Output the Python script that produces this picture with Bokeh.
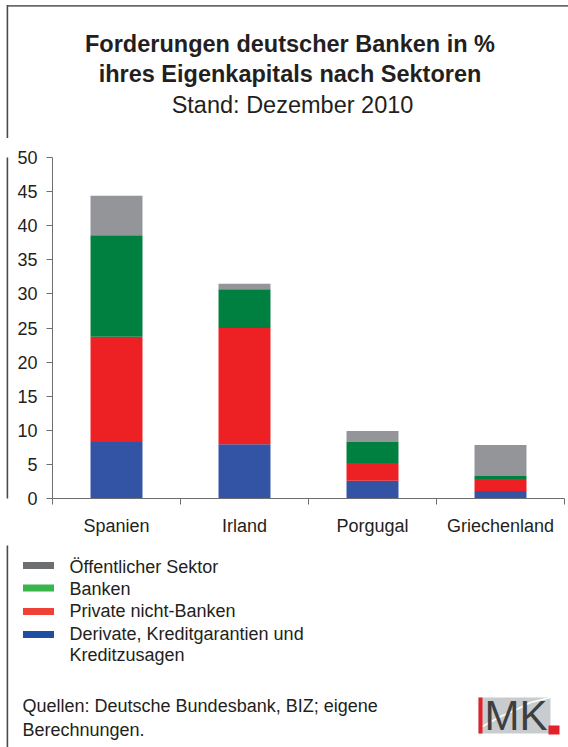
from bokeh.plotting import figure
from bokeh.models import Range1d, FixedTicker, ColumnDataSource
from bokeh.layouts import column, row
from bokeh.core.properties import value
from bokeh.embed import file_html
from bokeh.resources import INLINE

# ---------------- data ----------------
categories = ["Spanien", "Irland", "Porgugal", "Griechenland"]
derivate = [8.3, 7.95, 2.6, 1.1]          # Derivate, Kreditgarantien und Kreditzusagen
private = [15.4, 17.05, 2.6, 1.75]        # Private nicht-Banken
banken = [14.9, 5.7, 3.1, 0.45]           # Banken
oeffentlich = [5.8, 0.8, 1.6, 4.55]       # Öffentlicher Sektor
y_ticks = [0, 5, 10, 15, 20, 25, 30, 35, 40, 45, 50]

legend_labels = ["Öffentlicher Sektor", "Banken", "Private nicht-Banken",
                 "Derivate, Kreditgarantien und", "Kreditzusagen"]
title_lines = ["Forderungen deutscher Banken in %", "ihres Eigenkapitals nach Sektoren"]
subtitle = "Stand: Dezember 2010"
source_lines = ["Quellen: Deutsche Bundesbank, BIZ; eigene", "Berechnungen."]

# ---------------- styles ----------------
FONT = "Liberation Sans"
TXT = "#231f20"
AXC = "#6d6e71"
FRAME_TOP = "#6a6a6a"
FRAME_LEFT = "#4a4a4a"
bar_colors = ["#3353a4", "#ed2024", "#008040", "#939598"]      # stacked bottom -> top
legend_colors = ["#6d6e71", "#39b54a", "#ef4136", "#1f4fa0"]   # legend order (top -> bottom)

W = 568
H_HDR, H_CHART, H_FTR = 138, 407, 202
Y_CHART, Y_FTR = H_HDR, H_HDR + H_CHART
STRIP = 12
LEFT_X = 6.9


def blank(w, h, xr, yr):
    return figure(width=w, height=h, x_range=Range1d(*xr), y_range=Range1d(*yr),
                  output_backend="svg", toolbar_location=None, min_border=0,
                  x_axis_type=None, y_axis_type=None, outline_line_color=None,
                  background_fill_color="white", border_fill_color="white")


# ---------------- header ----------------
hdr = blank(W, H_HDR, (0, W), (H_HDR, 0))
hdr.segment(x0=[LEFT_X], y0=[5.3], x1=[W + 5], y1=[5.3], line_color=FRAME_TOP, line_width=1.7)
hdr.segment(x0=[LEFT_X], y0=[4.5], x1=[LEFT_X], y1=[H_HDR + 10], line_color=FRAME_LEFT, line_width=1.6)
hdr.text(x=[289.5, 289.5], y=[43.5, 73], text=title_lines, text_align="center",
         text_baseline="alphabetic", text_font=value(FONT), text_font_style="bold",
         text_font_size="23.5px", text_color=TXT)
hdr.text(x=[292], y=[104], text=[subtitle], text_align="center",
         text_baseline="alphabetic", text_font=value(FONT),
         text_font_size="23.5px", text_color=TXT)

# ---------------- left strip ----------------
strip = blank(STRIP, H_CHART, (0, STRIP), (Y_FTR, Y_CHART))
strip.segment(x0=[LEFT_X], y0=[Y_CHART - 10], x1=[LEFT_X], y1=[Y_FTR + 10],
              line_color=FRAME_LEFT, line_width=1.6)

# ---------------- chart ----------------
p = figure(width=W - STRIP, height=H_CHART, x_range=Range1d(0.5, 4.5), y_range=Range1d(0, 50),
           min_border_left=40, min_border_right=4, min_border_top=19, min_border_bottom=47,
           output_backend="svg", toolbar_location=None, outline_line_color=None,
           background_fill_color="white", border_fill_color="white")
p.xgrid.visible = False
p.ygrid.visible = False

xs = [i + 1 for i in range(len(categories))]
src = ColumnDataSource(dict(x=xs, derivate=derivate, private=private,
                            banken=banken, oeffentlich=oeffentlich))
p.vbar_stack(["derivate", "private", "banken", "oeffentlich"], x="x", width=0.406,
             fill_color=bar_colors, line_color=None, source=src)

xa = p.xaxis[0]
xa.ticker = FixedTicker(ticks=xs, minor_ticks=[x - 0.5 for x in xs] + [xs[-1] + 0.5])
xa.major_label_overrides = {x: c for x, c in zip(xs, categories)}
xa.major_tick_out = 0
xa.major_tick_in = 0
xa.minor_tick_out = 6
xa.minor_tick_in = 0
xa.minor_tick_line_color = AXC
xa.axis_line_color = AXC
xa.major_label_standoff = 11
xa.major_label_text_font = FONT
xa.major_label_text_font_size = "18px"
xa.major_label_text_color = TXT

ya = p.yaxis[0]
ya.ticker = FixedTicker(ticks=y_ticks)
ya.major_tick_out = 6
ya.major_tick_in = 0
ya.minor_tick_out = 0
ya.minor_tick_in = 0
ya.major_tick_line_color = AXC
ya.axis_line_color = AXC
ya.major_label_standoff = 9
ya.major_label_text_font = FONT
ya.major_label_text_font_size = "18px"
ya.major_label_text_color = TXT

# ---------------- footer ----------------
ftr = blank(W, H_FTR, (0, W), (Y_FTR + H_FTR, Y_FTR))
ftr.segment(x0=[LEFT_X], y0=[Y_FTR - 10], x1=[LEFT_X], y1=[Y_FTR + H_FTR + 10],
            line_color=FRAME_LEFT, line_width=1.6)

row_mid = [566, 588.5, 610.5, 633, 654.5]
patch_c = [565, 587.5, 611, 634]
ftr.quad(left=22.5, right=53.5, top=[c - 3.6 for c in patch_c], bottom=[c + 3.6 for c in patch_c],
         fill_color=legend_colors, line_color=None)
ftr.text(x=[69] * 5, y=row_mid, text=legend_labels, text_baseline="alphabetic",
         text_font=value(FONT), text_font_size="18px", text_color=TXT)

ftr.text(x=[22, 22], y=[705.5, 729], text=source_lines, text_baseline="alphabetic",
         text_font=value(FONT), text_font_size="18px", text_color=TXT)

# IMK logo
ftr.quad(left=[478], right=[550], top=[697], bottom=[733], fill_color="#c9ccce", line_color=None)
ftr.line(x=[482, 500, 512, 530, 550], y=[726, 716, 711, 702, 697], line_color="white", line_width=1.5)
ftr.quad(left=[478], right=[482], top=[697], bottom=[733], fill_color="#e4202a", line_color=None)
ftr.text(x=[484], y=[715], text=["MK"], text_baseline="alphabetic",
         text_font=value(FONT), text_font_size="42px", text_color="#3d3f41")
ftr.quad(left=[548], right=[559], top=[725], bottom=[734], fill_color="#e4202a", line_color=None)

layout = column(hdr, row(strip, p), ftr)
open("out.html", "w").write(file_html(layout, INLINE))
